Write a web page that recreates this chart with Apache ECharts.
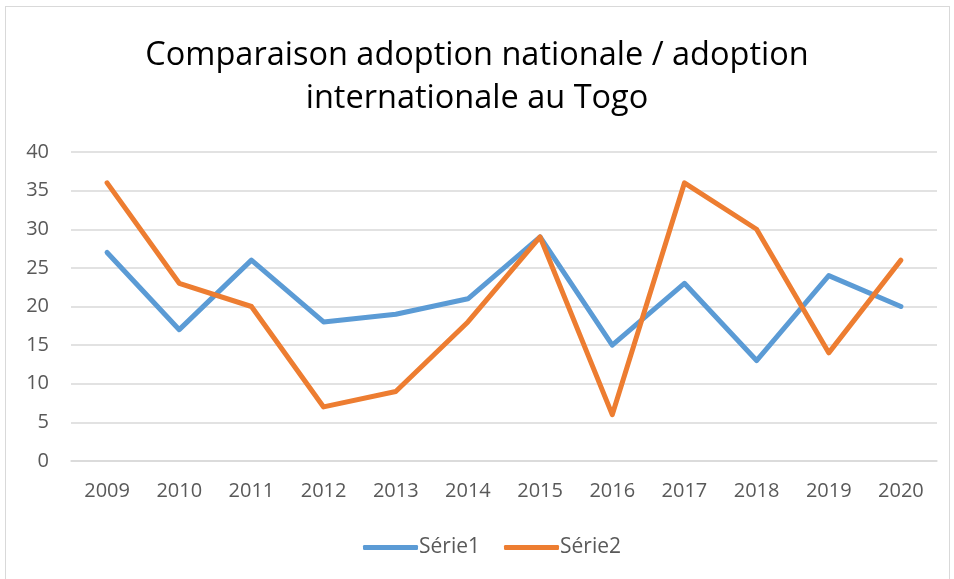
<!DOCTYPE html>
<html><head><meta charset="utf-8">
<script src="https://cdn.jsdelivr.net/npm/echarts@6/dist/echarts.min.js"></script>
<style>
html,body{margin:0;padding:0;background:#fff;}
#frame{position:absolute;left:5px;top:6px;width:945px;height:580px;border:1.5px solid #d9d9d9;box-sizing:border-box;}
#chart{position:absolute;left:0;top:0;width:954px;height:579px;}
</style></head>
<body><div id="frame"></div><div id="chart"></div>
<script>
const categories = ['2009','2010','2011','2012','2013','2014','2015','2016','2017','2018','2019','2020'];
const serie1 = [27,17,26,18,19,21,29,15,23,13,24,20];
const serie2 = [36,23,20,7,9,18,29,6,36,30,14,26];
const seriesNames = ['Série1','Série2'];
const titleText = 'Comparaison adoption nationale / adoption\ninternationale au Togo';

const chart = echarts.init(document.getElementById('chart'), null, {renderer:'canvas'});
const font = 'Open Sans';
chart.setOption({
  animation:false,
  backgroundColor:'transparent',
  title:{text:titleText,left:'center',top:29,textStyle:{fontFamily:font,fontSize:32.5,fontWeight:'normal',color:'#000',lineHeight:43}},
  grid:{left:71,right:17,top:152,bottom:118},
  legend:{bottom:16,left:358,itemWidth:55,itemHeight:5,itemGap:24,icon:'roundRect',
    textStyle:{fontFamily:font,fontSize:21,color:'#595959',padding:[0,0,0,-4]},data:seriesNames},
  xAxis:{type:'category',data:categories,boundaryGap:true,
    axisLine:{show:true,lineStyle:{color:'#d9d9d9',width:1.5}},axisTick:{show:false},
    axisLabel:{fontFamily:font,fontSize:20,color:'#595959',margin:20}},
  yAxis:{type:'value',min:0,max:40,interval:5,
    axisLine:{show:false},axisTick:{show:false},
    splitLine:{lineStyle:{color:'#d9d9d9',width:1.5}},
    axisLabel:{fontFamily:font,fontSize:20,color:'#595959',margin:22}},
  series:[
    {name:seriesNames[0],type:'line',data:serie1,symbol:'none',lineStyle:{width:5,color:'#5B9BD5',cap:'round',join:'round'},itemStyle:{color:'#5B9BD5'}},
    {name:seriesNames[1],type:'line',data:serie2,symbol:'none',lineStyle:{width:5,color:'#ED7D31',cap:'round',join:'round'},itemStyle:{color:'#ED7D31'}}
  ]
});
</script></body></html>
